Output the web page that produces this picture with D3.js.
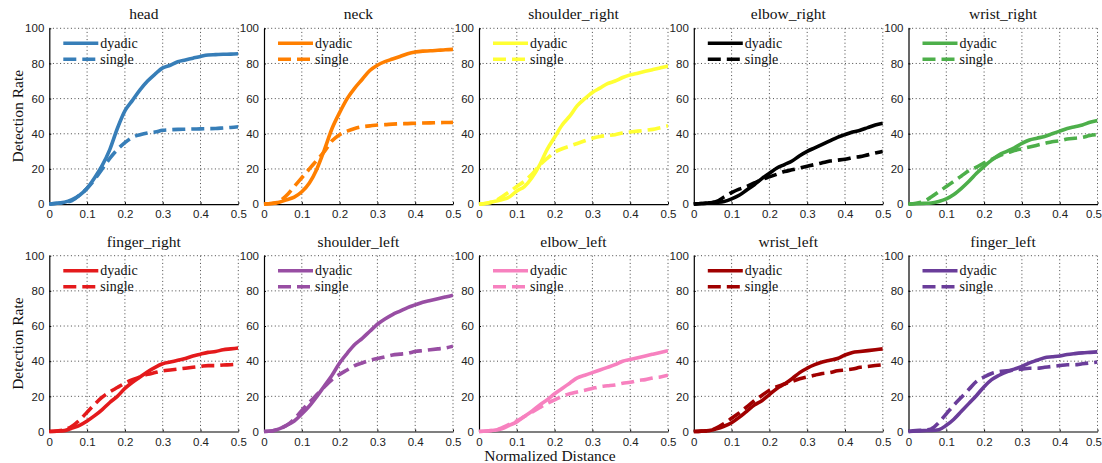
<!DOCTYPE html>
<html>
<head>
<meta charset="utf-8">
<script src="https://cdn.jsdelivr.net/npm/d3@7/dist/d3.min.js"></script>
<style>
  html, body { margin: 0; padding: 0; background: #fff; }
  svg { display: block; }
</style>
</head>
<body>
<svg id="chart" width="1102" height="463"></svg>
<script>
// Sample positions along the normalized distance axis
const distances = d3.range(0, 0.5001, 0.02).map(v => +v.toFixed(2));

// Body parts, in panel order
const parts = ["head", "neck", "shoulder_right", "elbow_right", "wrist_right",
               "finger_right", "shoulder_left", "elbow_left", "wrist_left", "finger_left"];

const partColors = ["#377eb8", "#ff7f00", "#ffff33", "#000000", "#4daf4a",
                    "#e41a1c", "#984ea3", "#f781bf", "#a00000", "#6a3d9a"];

const seriesNames = ["dyadic", "single"];

// Detection rate (%) at each distance, per part
const dyadic = [
  [0,0.5,1,2.5,5,9,15,22,31,43,53,59,65,70,74,77.5,79,81,82,83,84,84.8,85,85.2,85.3,85.5],
  [0,0.3,1,2.5,4,7,12,20,31,43,52,60,66,71,76,79,81,82.5,84,85.5,86.5,87,87.2,87.5,87.8,88],
  [0,0.5,1.5,2.5,4,7.5,10,15,22,31,38,45,50,56,60,63.5,66,68.5,70,72,73.5,74.5,75.5,76.5,77.5,78.5],
  [0,0.3,0.7,1,1.5,3,5,8,11,14.5,17.5,20.5,22.5,24.5,27.5,30,32,34,36,38,39.5,41,42,43.5,45,46],
  [0,0.2,0.4,0.6,1.5,3,5.5,9,13,17.5,21.5,25,28,30,32,34.5,36.5,37.5,38.5,40,41.5,43,44,45,46.5,47.5],
  [0,0.2,0.5,2,3.5,6,9,12.5,16.5,20,24.5,28,31,34,36.5,38.5,39.5,40.5,41.5,43,44,45,45.5,46.5,47,47.5],
  [0,0.3,1.5,3.5,6,10,14.5,20,26,32,39,44.5,49.5,53,57,61,64,66.5,68.5,70.5,72,73.5,74.5,75.5,76.5,77.5],
  [0,0.3,0.7,1.5,3.5,5.5,8.5,11.5,15,18,21.5,24.5,27.5,30.5,32,33.5,35,36.5,38,40,41,42,43,44,45,46],
  [0,0.2,0.5,1.5,3,5,8,11.5,15,17.5,21,24.5,27,30,33.5,36,38,39.5,40.5,41.5,43.5,45,45.5,46,46.5,47],
  [0,0.3,0.5,0.6,1,3.5,7,11.5,16,20.5,25.5,29.5,32,34,35.5,37,39,40.5,42,42.5,43,43.8,44.3,44.7,45,45.3]
];

const single = [
  [0,0.5,1,2,5,9,14,20,26,31,35,38,39.5,40.5,41,42,42.3,42.5,42.6,42.7,42.8,42.9,43,43.3,43.6,44],
  [0,0.3,1.5,5,10,15,20,25,30,36,39.5,41.5,43,44,44.5,45,45.2,45.5,45.7,45.8,46,46.1,46.2,46.3,46.4,46.5],
  [0,0.5,1.5,4,7,10,13,17,22,26,29.5,31.5,33,34.5,36,37.5,38.5,39,39.5,40.5,41,41.5,42,42.5,43.5,44.5],
  [0,0.3,0.7,1.5,4,6.5,8.5,10,12,14,15.5,17,18.5,19.5,20.5,21.5,22.5,23.5,24.5,25,25.5,26.5,27,28,29,30],
  [0,0.5,1.5,4,7,10,13,16,19,21,23.5,25.5,27.5,29,30.5,31.5,32.5,33.5,34.5,35.5,36,37,37.5,38,39,39.5],
  [0,0.3,1,3,6.5,11,15.5,19.5,22.5,25,27.5,29.5,31,32.5,33.5,34.5,35,35.5,36,36.5,37,37.5,37.5,37.8,38,38.3],
  [0,0.3,1.5,3.5,7,12,16.5,21,25.5,29.5,32.5,35,37.5,39,40.5,41.5,42.5,43.5,44,44.5,45.5,46,46.5,47,47.5,48.5],
  [0,0.3,0.7,2,4,6,8.5,11,13.5,16,18,20,21.5,22.5,23.5,24.5,25.5,26,26.5,27.5,28,29,29.5,30.5,31,32],
  [0,0.2,0.5,2,4.5,7.5,10.5,14,17.5,20.5,23.5,25.5,27,28.5,30,31,32,33,33.5,34.5,35,35.5,36.5,37,37.5,38],
  [0,0.5,0.8,1.5,5,10,15,19.5,24,28.5,31,33,34,34.5,35,35.5,36,36,36.5,37,37.5,38,38,38.5,39,39.5]
];

const xTicks = [0, 0.1, 0.2, 0.3, 0.4, 0.5];
const yTicks = [0, 20, 40, 60, 80, 100];
const yLabel = "Detection Rate";
const xLabel = "Normalized Distance";

// Layout of the 2 x 5 grid of panels
const panelLefts = [49.3, 264, 479, 693.8, 908.5];
const panelWidth = 189;
const rowTops = [28.3, 255.7];
const panelHeight = 175.8;

const svg = d3.select("#chart");
const serif = "'Liberation Serif', 'DejaVu Serif', serif";
const sans = "'Liberation Sans', Arial, sans-serif";

parts.forEach((part, i) => {
  const row = Math.floor(i / 5), col = i % 5;
  const g = svg.append("g")
    .attr("transform", `translate(${panelLefts[col]},${rowTops[row]})`);

  const x = d3.scaleLinear().domain([0, 0.5]).range([0, panelWidth]);
  const y = d3.scaleLinear().domain([0, 100]).range([panelHeight, 0]);

  // dotted grid (also forms the top and right edges)
  const grid = g.append("g").attr("class", "grid");
  grid.selectAll("line.vx").data(xTicks.slice(1)).join("line")
    .attr("x1", d => x(d)).attr("x2", d => x(d))
    .attr("y1", 0).attr("y2", panelHeight);
  grid.selectAll("line.hy").data(yTicks.slice(1)).join("line")
    .attr("x1", 0).attr("x2", panelWidth)
    .attr("y1", d => y(d)).attr("y2", d => y(d));
  grid.selectAll("line")
    .attr("stroke", "#333").attr("stroke-width", 0.9)
    .attr("stroke-dasharray", "1,2.6");

  // axes
  const xAxis = d3.axisBottom(x).tickValues(xTicks)
    .tickFormat(d => d === 0 ? "0" : d3.format(".1f")(d))
    .tickSizeInner(-2).tickSizeOuter(0).tickPadding(6);
  const yAxis = d3.axisLeft(y).tickValues(yTicks)
    .tickSizeInner(-2).tickSizeOuter(0).tickPadding(5);

  const gx = g.append("g").attr("transform", `translate(0,${panelHeight})`).call(xAxis);
  const gy = g.append("g").call(yAxis);
  [gx, gy].forEach(a => {
    a.select(".domain").attr("stroke", "#000").attr("stroke-width", 1.2);
    a.selectAll(".tick line").attr("stroke", "#000");
    a.selectAll(".tick text")
      .attr("font-family", sans).attr("font-size", 11.5).attr("fill", "#222");
  });
  // keep the rightmost tick label of the last column inside the page
  if (col === 4) {
    gx.selectAll(".tick text").filter(d => d === 0.5)
      .attr("text-anchor", "end").attr("dx", 4);
  }

  // curves
  const line = d3.line()
    .x((d, k) => x(distances[k]))
    .y(d => y(d))
    .curve(d3.curveMonotoneX);

  const clipId = "clip" + i;
  g.append("clipPath").attr("id", clipId)
    .append("rect").attr("x", -3).attr("y", -3)
    .attr("width", panelWidth + 3).attr("height", panelHeight + 6);

  const curves = g.append("g").attr("clip-path", `url(#${clipId})`);
  curves.append("path").datum(single[i])
    .attr("d", line).attr("fill", "none")
    .attr("stroke", partColors[i]).attr("stroke-width", 3.6)
    .attr("stroke-dasharray", "13,6");
  curves.append("path").datum(dyadic[i])
    .attr("d", line).attr("fill", "none")
    .attr("stroke", partColors[i]).attr("stroke-width", 3.6);

  // legend
  const leg = g.append("g");
  seriesNames.forEach((name, k) => {
    const ly = 15 + k * 16;
    leg.append("line")
      .attr("x1", 14).attr("x2", 49).attr("y1", ly).attr("y2", ly)
      .attr("stroke", partColors[i]).attr("stroke-width", 3.6)
      .attr("stroke-dasharray", k === 0 ? null : "13,6");
    leg.append("text")
      .attr("x", 51).attr("y", ly + 4.5)
      .attr("font-family", serif).attr("font-size", 14)
      .attr("fill", "#111")
      .text(name);
  });

  // panel title
  g.append("text")
    .attr("x", panelWidth / 2).attr("y", -9)
    .attr("text-anchor", "middle")
    .attr("font-family", serif).attr("font-size", 15.5)
    .attr("fill", "#111")
    .text(part);

  // y label on the first column
  if (col === 0) {
    g.append("text")
      .attr("transform", `translate(${-26},${panelHeight / 2}) rotate(-90)`)
      .attr("text-anchor", "middle")
      .attr("font-family", serif).attr("font-size", 15.5)
      .attr("fill", "#111")
      .text(yLabel);
  }
});

// shared x label
svg.append("text")
  .attr("x", 550).attr("y", 461)
  .attr("text-anchor", "middle")
  .attr("font-family", serif).attr("font-size", 15.5)
  .attr("fill", "#111")
  .text(xLabel);
</script>
</body>
</html>
